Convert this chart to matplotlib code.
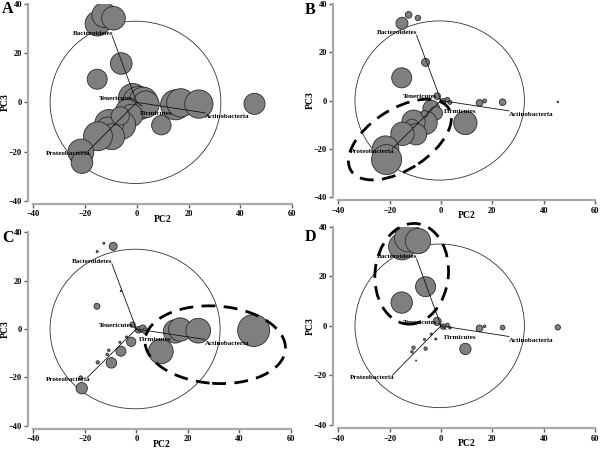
import matplotlib
matplotlib.use('Agg')
import matplotlib.pyplot as plt
from matplotlib.patches import Ellipse

plt.rcParams['font.family'] = ['Liberation Serif', 'DejaVu Serif']
plt.rcParams['font.weight'] = 'bold'

# sample scores on PC2 / PC3
pc2 = [-15.2, -12.6, -9.0, -6.0, -15.3, -1.5, 0.8, 2.5, 3.5, 9.5, 15.0, 17.0,
       24.0, 45.5, -3.8, -2.0, -6.0, -10.7, -11.3, -9.7, -15.0, -21.6, -21.2, -6.4]
pc3 = [32.0, 35.5, 34.2, 15.8, 9.4, 1.8, -0.3, 0.3, -0.8, -9.3, -1.0, -0.2,
       -0.7, -0.6, -3.3, -5.3, -9.2, -8.8, -10.5, -14.0, -13.8, -20.2, -24.5, -5.5]

# relative abundance used for bubble size, one list per panel
abund_A = [55, 55, 50, 42, 36, 75, 100, 75, 64, 34, 81, 72, 72, 40, 45, 45,
           75, 75, 45, 60, 75, 60, 42, 30]
abund_B = [13, 4, 2.6, 5.8, 36, 4, 2.6, 2, 1.4, 49, 4, 1.4, 4, 0.2, 25, 16,
           49, 49, 16, 41, 49, 64, 81, 4]
abund_C = [0.4, 0.4, 5.8, 0.2, 3.2, 2.6, 4, 4, 3.2, 55, 49, 49, 55, 92, 0.4,
           7.8, 9, 0.6, 0.6, 10, 1, 1.4, 11.6, 0.4]
abund_D = [64, 71, 58, 36, 41, 5.8, 2.6, 1.4, 0.6, 11.6, 4, 0.6, 2, 2.6, 0.4,
           0.4, 1, 1, 0.6, 0.1, 0, 0, 0, 0.4]

# phylum loading vectors
phyla = ['Bacteroidetes', 'Tenericutes', 'Firmicutes', 'Actinobacteria', 'Proteobacteria']
vec_x = [-9.5, -1.0, 2.0, 26.5, -19.0]
vec_y = [27.0, 1.0, -1.5, -4.3, -20.0]
lab_x = [-17.0, -1.2, 1.0, 26.5, -18.0]
lab_y = [28.0, 1.5, -4.5, -5.8, -21.0]
lab_ha = ['center', 'right', 'left', 'left', 'right']

panels = ['A', 'B', 'C', 'D']
abunds = [abund_A, abund_B, abund_C, abund_D]
# dashed group ellipses: (cx, cy, w, h, angle)
groups = [None, (-16, -16.2, 46, 24.7, 35.5), (30.6, -6.5, 54.6, 32, -4.3),
          (-11.4, 21, 28.6, 40.7, -5)]

boxes = [(33.3, 4, 292, 200.7), (338.3, 4, 595, 197),
         (33.3, 232.3, 291, 425.7), (338.3, 226.7, 595, 425)]
letter_pos = [(2, 9), (305, 10), (2, 238), (305, 237)]

fig = plt.figure(figsize=(6, 4.5), dpi=100)
W, H = 600, 450
grey = '#a8a8a8'

for i in range(4):
    x0, y0, x1, y1 = boxes[i]
    ax = fig.add_axes([x0 / W, 1 - y1 / H, (x1 - x0) / W, (y1 - y0) / H])
    ax.set_xlim(-40, 60)
    ax.set_ylim(-40, 40)
    for s in ['top', 'right']:
        ax.spines[s].set_visible(False)
    ax.spines['left'].set_position(('outward', 3.6))
    ax.spines['bottom'].set_position(('outward', 2.5))
    for s in ['left', 'bottom']:
        ax.spines[s].set_color(grey)
        ax.spines[s].set_linewidth(1.6)
    ax.set_xticks([-40, -20, 0, 20, 40, 60])
    ax.set_yticks([-40, -20, 0, 20, 40])
    ax.tick_params(length=3, width=1, color='#606060', labelsize=6, pad=1.5)
    for t in ax.get_xticklabels() + ax.get_yticklabels():
        t.set_fontweight('bold')
    ax.set_xlabel('PC2', fontsize=7, fontweight='bold')
    ax.set_ylabel('PC3', fontsize=7, fontweight='bold')
    hpx = y1 - y0
    wpx = x1 - x0
    ax.xaxis.set_label_coords(0.5, -14 / hpx)
    ax.yaxis.set_label_coords(-23 / wpx, 0.5)

    ax.add_patch(Ellipse((-0.5, 0), 66, 66, fill=False, ec='#333333', lw=0.6))
    sizes = [5.76 * a for a in abunds[i]]
    ax.scatter(pc2, pc3, s=sizes, c='#7f7f7f', edgecolors='#2b2b2b',
               linewidths=0.6, zorder=3)

    for j in range(len(phyla)):
        ax.plot([0, vec_x[j]], [0, vec_y[j]], color='#111111', lw=0.6, zorder=4)
        ax.text(lab_x[j], lab_y[j], phyla[j], fontsize=5, fontweight='bold',
                ha=lab_ha[j], va='center', zorder=5)

    if groups[i] is not None:
        cx, cy, w, h, ang = groups[i]
        ax.add_patch(Ellipse((cx, cy), w, h, angle=ang, fill=False, ec='black',
                             lw=2.0, ls=(0, (5, 3)), zorder=6, clip_on=False))

    lx, ly = letter_pos[i]
    fig.text(lx / W, 1 - ly / H, panels[i], fontsize=11.5,
             fontweight='bold', va='center', ha='left')

fig.savefig('out.png', dpi=100)
